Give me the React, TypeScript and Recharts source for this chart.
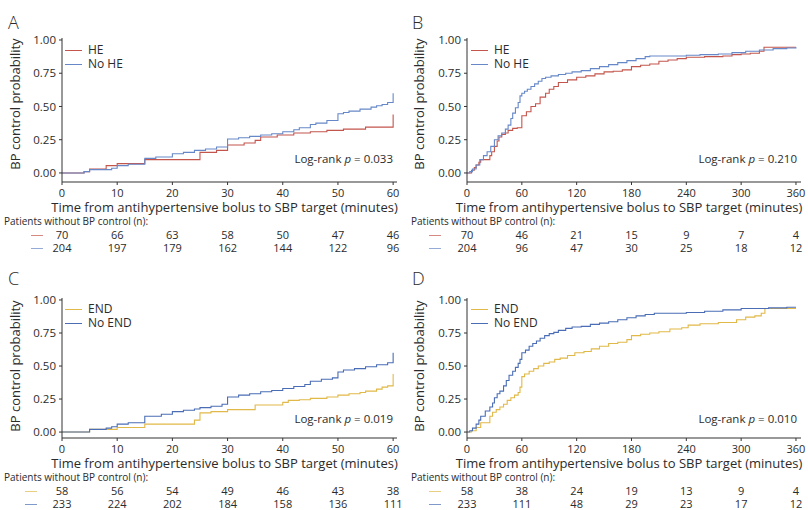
import React from "react";
import { LineChart, Line, XAxis, YAxis, Legend } from "recharts";

const FONT = "'Open Sans', sans-serif";
const INK = "#2b2b2b";

const minuteTicks = [0, 10, 20, 30, 40, 50, 60];
const hourTicks = [0, 60, 120, 180, 240, 300, 360];
const probTicks = [0, 0.25, 0.5, 0.75, 1];

// [time, cumulative probability of BP control]
const heFirstHour: [number, number][] = [
  [0, 0], [4, 0.01], [5, 0.03], [8, 0.055], [10, 0.07], [15, 0.1], [25, 0.155], [28, 0.17],
  [30, 0.21], [33, 0.225], [35, 0.245], [36, 0.27], [39, 0.285], [42, 0.3], [45, 0.31],
  [48, 0.32], [51, 0.33], [55, 0.345], [60, 0.44],
];
const noHeFirstHour: [number, number][] = [
  [0, 0], [4, 0.01], [5, 0.025], [9, 0.035], [10, 0.055], [12, 0.065], [15, 0.11], [17, 0.12],
  [20, 0.145], [22, 0.155], [24, 0.17], [26, 0.18], [28, 0.195], [30, 0.255], [32, 0.265],
  [34, 0.275], [36, 0.285], [38, 0.295], [40, 0.31], [42, 0.325], [43, 0.34], [45, 0.365],
  [46, 0.375], [48, 0.395], [50, 0.445], [51, 0.455], [52, 0.465], [54, 0.48], [56, 0.495],
  [57, 0.505], [58, 0.515], [59, 0.53], [60, 0.6],
];
const heSixHours: [number, number][] = [
  [0, 0], [5, 0.02], [8, 0.04], [10, 0.06], [13, 0.08], [15, 0.1], [25, 0.13], [27, 0.16],
  [30, 0.2], [33, 0.24], [35, 0.27], [38, 0.29], [42, 0.3], [45, 0.32], [50, 0.335],
  [55, 0.34], [60, 0.43], [65, 0.46], [70, 0.5], [75, 0.52], [80, 0.57], [86, 0.6],
  [90, 0.63], [95, 0.65], [100, 0.68], [110, 0.7], [120, 0.72], [130, 0.73], [140, 0.745],
  [150, 0.76], [160, 0.765], [170, 0.775], [180, 0.8], [190, 0.81], [200, 0.82], [210, 0.84],
  [220, 0.85], [230, 0.86], [240, 0.87], [260, 0.875], [280, 0.88], [290, 0.89], [300, 0.895],
  [310, 0.9], [320, 0.915], [325, 0.945], [360, 0.945],
];
const noHeSixHours: [number, number][] = [
  [0, 0], [3, 0.01], [6, 0.03], [10, 0.06], [14, 0.1], [18, 0.13], [22, 0.16], [26, 0.2],
  [30, 0.25], [34, 0.28], [38, 0.3], [42, 0.33], [45, 0.36], [48, 0.41], [50, 0.45],
  [53, 0.49], [56, 0.53], [58, 0.58], [60, 0.6], [63, 0.615], [66, 0.63], [70, 0.65],
  [74, 0.67], [78, 0.69], [82, 0.71], [86, 0.72], [92, 0.73], [100, 0.74], [108, 0.75],
  [115, 0.76], [125, 0.77], [135, 0.785], [145, 0.8], [155, 0.815], [165, 0.83], [175, 0.845],
  [185, 0.86], [195, 0.875], [200, 0.88], [240, 0.885], [255, 0.89], [275, 0.895],
  [290, 0.905], [305, 0.915], [320, 0.925], [335, 0.935], [350, 0.94], [360, 0.945],
];
const endFirstHour: [number, number][] = [
  [0, 0], [5, 0.02], [10, 0.035], [15, 0.06], [24, 0.09], [25, 0.145], [27, 0.155],
  [30, 0.17], [35, 0.205], [40, 0.225], [41, 0.24], [43, 0.245], [45, 0.255], [48, 0.265],
  [50, 0.28], [52, 0.29], [54, 0.3], [55, 0.31], [57, 0.325], [58, 0.34], [59, 0.35], [60, 0.44],
];
const noEndFirstHour: [number, number][] = [
  [0, 0], [5, 0.02], [8, 0.03], [9, 0.04], [10, 0.06], [12, 0.07], [15, 0.12], [18, 0.135],
  [20, 0.155], [22, 0.165], [24, 0.175], [25, 0.185], [27, 0.195], [29, 0.21], [30, 0.265],
  [32, 0.28], [34, 0.29], [36, 0.305], [38, 0.315], [40, 0.33], [42, 0.345], [44, 0.36],
  [45, 0.385], [47, 0.4], [49, 0.41], [50, 0.455], [51, 0.47], [53, 0.48], [55, 0.495],
  [57, 0.51], [59, 0.525], [60, 0.6],
];
const endSixHours: [number, number][] = [
  [0, 0], [5, 0.01], [10, 0.035], [15, 0.07], [25, 0.12], [28, 0.15], [32, 0.17], [36, 0.19],
  [40, 0.21], [44, 0.24], [48, 0.26], [52, 0.28], [56, 0.3], [58, 0.34], [60, 0.42],
  [63, 0.44], [68, 0.46], [73, 0.48], [78, 0.5], [84, 0.52], [90, 0.53], [96, 0.55],
  [102, 0.56], [110, 0.58], [118, 0.6], [128, 0.61], [136, 0.63], [145, 0.65], [155, 0.67],
  [165, 0.68], [175, 0.7], [180, 0.73], [190, 0.74], [200, 0.75], [210, 0.76], [222, 0.78],
  [235, 0.79], [242, 0.81], [255, 0.82], [275, 0.83], [295, 0.85], [305, 0.87], [315, 0.88],
  [322, 0.9], [326, 0.935], [360, 0.935],
];
const noEndSixHours: [number, number][] = [
  [0, 0], [3, 0.01], [6, 0.03], [10, 0.06], [13, 0.09], [15, 0.12], [20, 0.16], [25, 0.19],
  [28, 0.22], [30, 0.26], [33, 0.29], [36, 0.31], [40, 0.35], [43, 0.39], [46, 0.43],
  [50, 0.46], [53, 0.49], [56, 0.52], [58, 0.55], [60, 0.6], [64, 0.62], [68, 0.65],
  [72, 0.67], [76, 0.69], [80, 0.71], [85, 0.73], [90, 0.745], [95, 0.755], [100, 0.77],
  [108, 0.785], [115, 0.795], [125, 0.8], [135, 0.815], [145, 0.825], [155, 0.835],
  [165, 0.85], [175, 0.865], [185, 0.88], [195, 0.89], [205, 0.9], [240, 0.905], [260, 0.915],
  [280, 0.925], [300, 0.935], [330, 0.94], [350, 0.945], [360, 0.945],
];

// patients without BP control at each x tick
const riskHeA = [70, 66, 63, 58, 50, 47, 46];
const riskNoHeA = [204, 197, 179, 162, 144, 122, 96];
const riskHeB = [70, 46, 21, 15, 9, 7, 4];
const riskNoHeB = [204, 96, 47, 30, 25, 18, 12];
const riskEndC = [58, 56, 54, 49, 46, 43, 38];
const riskNoEndC = [233, 224, 202, 184, 158, 136, 111];
const riskEndD = [58, 38, 24, 19, 13, 9, 4];
const riskNoEndD = [233, 111, 48, 29, 23, 17, 12];

const RED = "#c4554c";
const LIGHT_BLUE = "#6688c8";
const GOLD = "#e1b948";
const BLUE = "#4a6db5";

type Curve = { name: string; color: string; points: [number, number][]; risk: number[] };

type PanelProps = {
  left: number;
  top: number;
  letter: string;
  xMax: number;
  ticks: number[];
  curves: Curve[];
  pValue: string;
  plotTop: number;
  yMin: number;
  axisWidth: number;
  legendTop: number;
  legendLeft: number;
  pTop: number;
  titleY: number;
  headerLeft: number;
  markerLeft: number;
};

const W = 404;
const H = 256;

function KMPanel(p: PanelProps) {
  const xTick = (props: any) => {
    const { x, y, payload } = props;
    const i = p.ticks.indexOf(payload.value);
    return (
      <g>
        <text x={x} y={y + 10} textAnchor="middle" fontSize={11} fill={INK} fontFamily={FONT}>
          {payload.value}
        </text>
        {p.curves.map((c, k) => (
          <text key={c.name} x={x} y={y + 52 + k * 13} textAnchor="middle" fontSize={11} fill={INK} fontFamily={FONT}>
            {c.risk[i]}
          </text>
        ))}
      </g>
    );
  };

  const xTitle = (props: any) => {
    const vb = props.viewBox;
    return (
      <text x={vb.x + vb.width / 2 - 5} y={vb.y + 30} textAnchor="middle" fontSize={13} fill={INK} fontFamily={FONT}>
        Time from antihypertensive bolus to SBP target (minutes)
      </text>
    );
  };

  const yTitle = () => (
    <text
      x={15}
      y={p.titleY}
      transform={`rotate(-90, 15, ${p.titleY})`}
      textAnchor="middle"
      dominantBaseline="central"
      fontSize={13}
      fill={INK}
      fontFamily={FONT}
    >
      BP control probability
    </text>
  );

  return (
    <div style={{ position: "absolute", left: p.left, top: p.top, width: W, height: H }}>
      <LineChart width={W} height={H} margin={{ top: p.plotTop, right: 7, bottom: 0, left: 0 }}>
        <XAxis
          type="number"
          dataKey="t"
          domain={[0, p.xMax]}
          allowDataOverflow
          ticks={p.ticks}
          height={74}
          stroke="#333"
          tickSize={3}
          tickMargin={2}
          tick={xTick}
          label={xTitle}
        />
        <YAxis
          type="number"
          domain={[p.yMin, 1.015]}
          allowDataOverflow
          ticks={probTicks}
          width={p.axisWidth}
          stroke="#333"
          tickSize={3}
          tickMargin={3}
          tick={{ fill: INK, fontSize: 11.5, fontFamily: FONT }}
          tickFormatter={(v: number) => v.toFixed(2)}
          label={yTitle}
        />
        {p.curves.map((c) => (
          <Line
            key={c.name}
            data={c.points.map(([t, v]) => ({ t, v }))}
            dataKey="v"
            name={c.name}
            type="stepAfter"
            stroke={c.color}
            strokeWidth={1.1}
            dot={false}
            activeDot={false}
            isAnimationActive={false}
          />
        ))}
        <Legend
          layout="vertical"
          align="center"
          verticalAlign="middle"
          wrapperStyle={{ left: p.legendLeft, top: p.legendTop, width: "auto", height: "auto" }}
          content={() => (
            <div style={{ fontFamily: FONT, fontSize: 12, color: INK, lineHeight: "14px" }}>
              {p.curves.map((c) => (
                <div key={c.name} style={{ display: "flex", alignItems: "center", height: 14, lineHeight: "14px" }}>
                  <span style={{ display: "inline-block", width: 17, borderTop: `1.3px solid ${c.color}`, marginRight: 6 }} />
                  <span>{c.name}</span>
                </div>
              ))}
            </div>
          )}
        />
      </LineChart>

      <div style={{ position: "absolute", left: 8, top: 10, fontFamily: FONT, fontSize: 18, fontWeight: 300, color: INK, lineHeight: "24px" }}>
        {p.letter}
      </div>
      <div style={{ position: "absolute", right: 11, top: p.pTop - 8, fontFamily: FONT, fontSize: 11.5, color: INK, lineHeight: "16px" }}>
        Log-rank <i>p</i> = {p.pValue}
      </div>
      <div style={{ position: "absolute", left: p.headerLeft, top: 214, fontFamily: FONT, fontSize: 10, color: INK, lineHeight: "14px" }}>
        Patients without BP control (n):
      </div>
      {p.curves.map((c, k) => (
        <div
          key={c.name}
          style={{ position: "absolute", left: p.markerLeft, top: 235 + k * 13, width: 12, borderTop: `1px solid ${c.color}`, opacity: 0.7 }}
        />
      ))}
    </div>
  );
}

const curvesA: Curve[] = [
  { name: "HE", color: RED, points: heFirstHour, risk: riskHeA },
  { name: "No HE", color: LIGHT_BLUE, points: noHeFirstHour, risk: riskNoHeA },
];
const curvesB: Curve[] = [
  { name: "HE", color: RED, points: heSixHours, risk: riskHeB },
  { name: "No HE", color: LIGHT_BLUE, points: noHeSixHours, risk: riskNoHeB },
];
const curvesC: Curve[] = [
  { name: "END", color: GOLD, points: endFirstHour, risk: riskEndC },
  { name: "No END", color: BLUE, points: noEndFirstHour, risk: riskNoEndC },
];
const curvesD: Curve[] = [
  { name: "END", color: GOLD, points: endSixHours, risk: riskEndD },
  { name: "No END", color: BLUE, points: noEndSixHours, risk: riskNoEndD },
];

export default function App() {
  return (
    <div style={{ position: "absolute", left: 0, top: 0, width: 808, height: 510, overflow: "hidden", background: "#fff" }}>
      <KMPanel left={0} top={0} letter="A" xMax={60.7} ticks={minuteTicks} curves={curvesA} pValue="0.033"
        plotTop={38} yMin={-0.068} axisWidth={62} legendTop={43} legendLeft={65} pTop={159} titleY={104} headerLeft={4} markerLeft={31} />
      <KMPanel left={404} top={0} letter="B" xMax={365.5} ticks={hourTicks} curves={curvesB} pValue="0.210"
        plotTop={38} yMin={-0.068} axisWidth={63} legendTop={43} legendLeft={67} pTop={159} titleY={104} headerLeft={7} markerLeft={25} />
      <KMPanel left={0} top={256} letter="C" xMax={60.7} ticks={minuteTicks} curves={curvesC} pValue="0.019"
        plotTop={42} yMin={-0.045} axisWidth={62} legendTop={46} legendLeft={65} pTop={163} titleY={110} headerLeft={4} markerLeft={25} />
      <KMPanel left={404} top={256} letter="D" xMax={365.5} ticks={hourTicks} curves={curvesD} pValue="0.010"
        plotTop={42} yMin={-0.045} axisWidth={63} legendTop={46} legendLeft={67} pTop={163} titleY={110} headerLeft={7} markerLeft={25} />
    </div>
  );
}
